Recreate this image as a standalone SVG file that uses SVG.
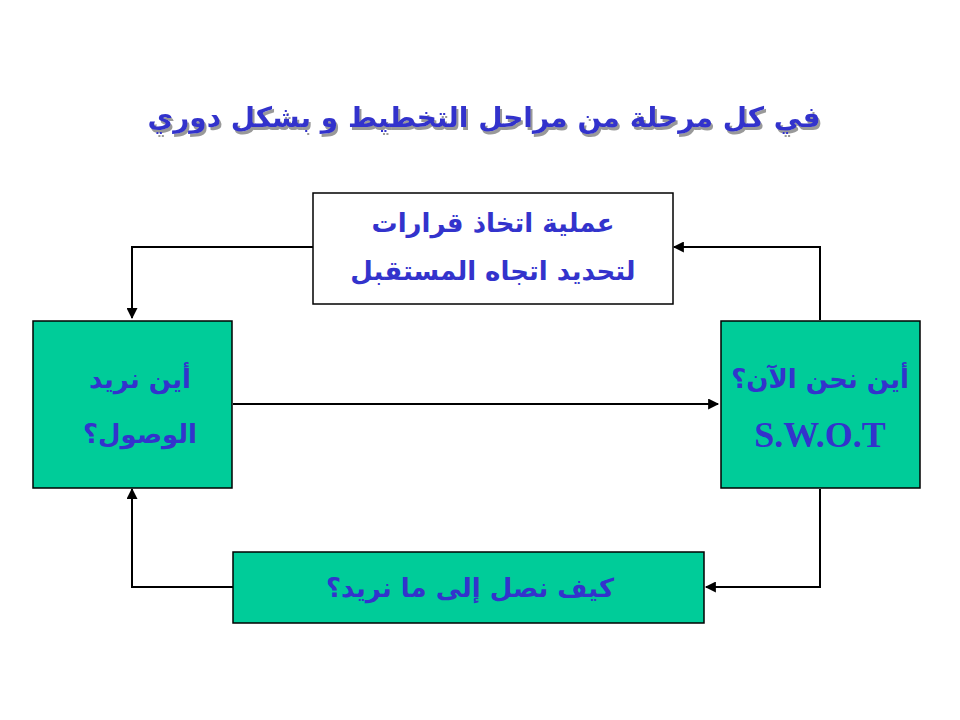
<svg xmlns="http://www.w3.org/2000/svg" width="960" height="720" viewBox="0 0 960 720">
<defs>
<style>
.b{stroke:#000;stroke-width:1.5}
.g{fill:#00CC99}
.t{fill:#3333CC;font-family:"DejaVu Sans","Noto Sans",sans-serif;font-weight:bold;text-anchor:middle}
.c{fill:none;stroke:#000;stroke-width:2}
</style>
<filter id="sh" x="-5%" y="-30%" width="110%" height="160%"><feDropShadow dx="2" dy="3" stdDeviation="0.5" flood-color="#999" flood-opacity="1"/></filter>
<marker id="a" viewBox="0 0 10 10" refX="9" refY="5" markerWidth="13" markerHeight="11" orient="auto" markerUnits="userSpaceOnUse"><path d="M0,0L10,5L0,10z" fill="#000"/></marker>
</defs>
<rect width="960" height="720" fill="#fff"/>
<g id="title">
<text x="484" y="127" class="t" font-size="28" direction="rtl" filter="url(#sh)">في كل مرحلة من مراحل التخطيط و بشكل دوري</text>
</g>
<g id="connectors">
<path class="c" d="M313,247H132V318" marker-end="url(#a)"/>
<path class="c" d="M233,404H718" marker-end="url(#a)"/>
<path class="c" d="M820,320V247H674" marker-end="url(#a)"/>
<path class="c" d="M820,489V587H706" marker-end="url(#a)"/>
<path class="c" d="M233,587H132V489" marker-end="url(#a)"/>
</g>
<g id="decision">
<rect x="313" y="193" width="360" height="111" fill="#fff" class="b"/>
<text x="493" y="232" class="t" font-size="26" direction="rtl">عملية اتخاذ قرارات</text>
<text x="493" y="280" class="t" font-size="26" direction="rtl">لتحديد اتجاه المستقبل</text>
</g>
<g id="where-go">
<rect x="33" y="321" width="199" height="167" class="g b"/>
<text x="140" y="388" class="t" font-size="26" direction="rtl">أين نريد</text>
<text x="140" y="443" class="t" font-size="26" direction="rtl">الوصول؟</text>
</g>
<g id="where-now">
<rect x="721" y="321" width="199" height="167" class="g b"/>
<text x="820" y="388" class="t" font-size="26" direction="rtl">أين نحن الآن؟</text>
<text x="820" y="447" class="t" font-size="36" style="font-family:'Liberation Serif',serif">S.W.O.T</text>
</g>
<g id="how">
<rect x="233" y="552" width="471" height="71" class="g b"/>
<text x="470" y="597" class="t" font-size="26" direction="rtl">كيف نصل إلى ما نريد؟</text>
</g>
</svg>
